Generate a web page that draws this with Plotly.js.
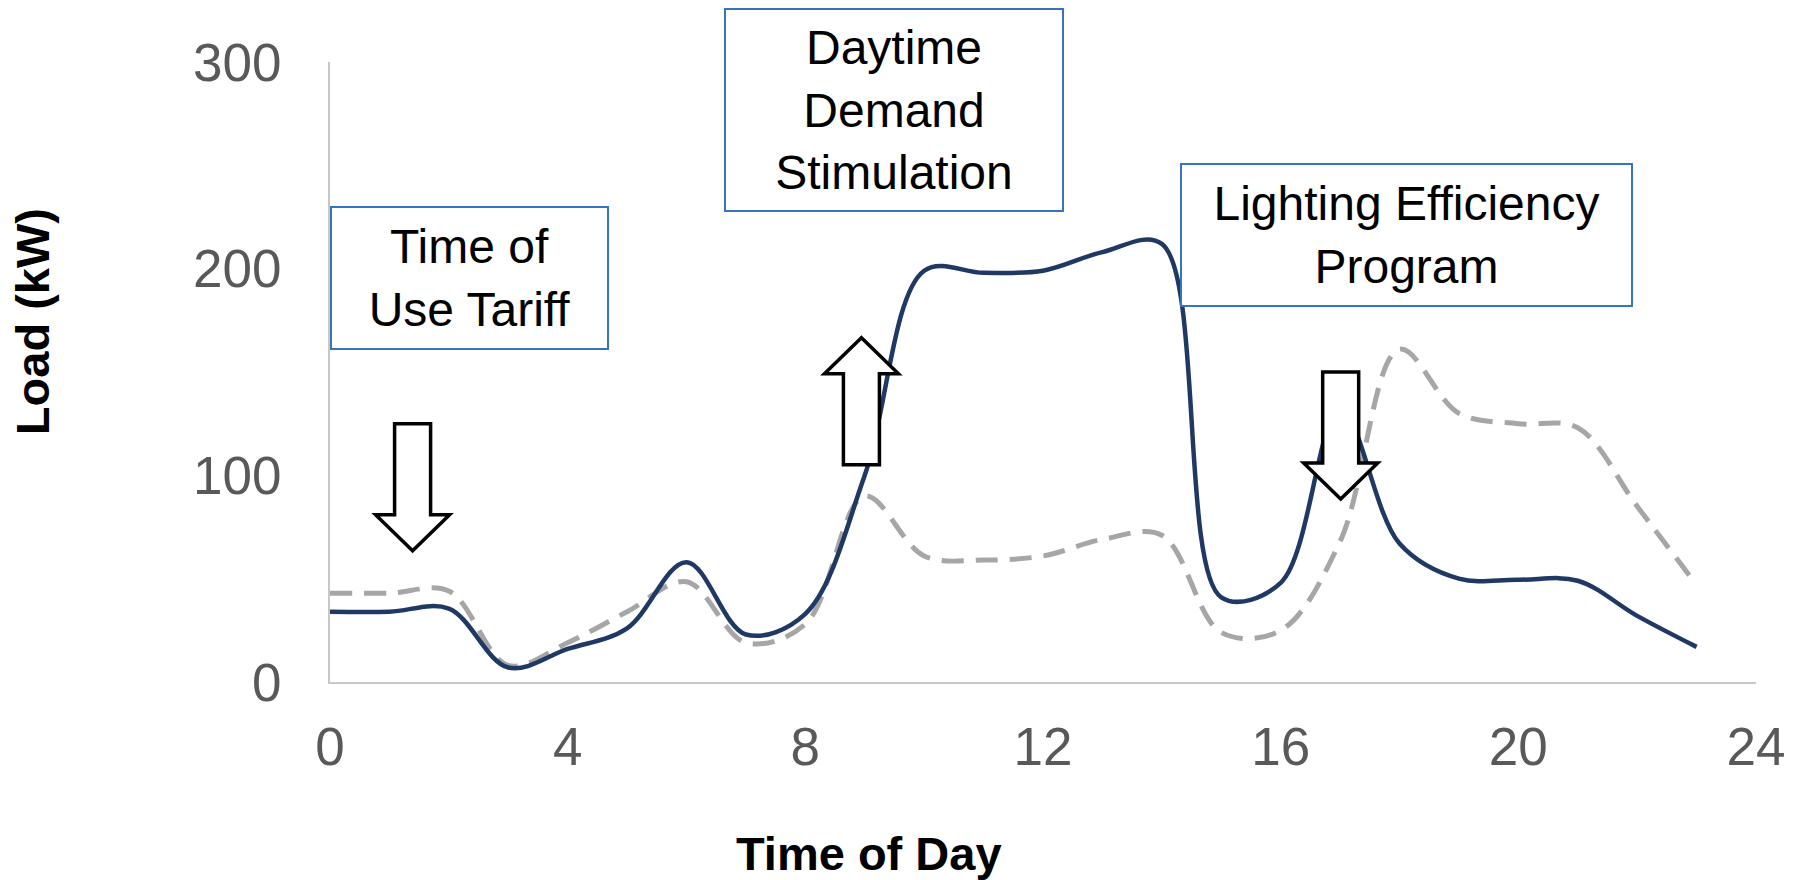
<!DOCTYPE html>
<html>
<head>
<meta charset="utf-8">
<script src="https://cdn.plot.ly/plotly-3.0.1.min.js"></script>
<style>html,body{margin:0;padding:0;background:#fff;}#chart{width:1806px;height:880px;}</style>
</head>
<body>
<div id="chart"></div>
<script>
// ---- data ----
const hours = [0,1,2,3,4,5,6,7,8,9,10,11,12,13,14,15,16,17,18,19,20,21,22,23];
const modifiedLoad = [34,34,35.5,7,16,26,58,23,33,100,199,198,199,208,212,41,48,132,67,50,49.5,49,32,17];
const baselineLoad = [43,43,44,8,19,34,48.5,19,28,90,61,59,61,69,71,24,25,68,161,130,125,123,85,47];
const xTicks = [0,4,8,12,16,20,24];
const yTicks = [0,100,200,300];
const xTitle = "Time of Day";
const yTitle = "Load (kW)";

const boxLabels = ["Time of<br>Use Tariff", "Daytime<br>Demand<br>Stimulation", "Lighting Efficiency<br>Program"];
const boxX = [2.35, 9.49, 18.12];
const boxY = [195.5, 276.7, 216.4];
const boxW = [275, 336, 449];
const boxH = [140, 200, 140];

// block arrows: anchor at tip (data coords), direction
const arrowX = [1.39, 8.944, 17.01];
const arrowY = [63.5, 166.6, 88.5];
const arrowDir = ["down", "up", "down"];

const FONT = "Liberation Sans, Arial, Helvetica, sans-serif";

const traces = [
  {x: hours, y: baselineLoad, type: "scatter", mode: "lines", name: "Baseline",
   line: {shape: "spline", smoothing: 1, color: "#a6a6a6", width: 5, dash: "22px,12px"},
   hoverinfo: "x+y", showlegend: false},
  {x: hours, y: modifiedLoad, type: "scatter", mode: "lines", name: "With programs",
   line: {shape: "spline", smoothing: 1, color: "#1f3864", width: 4.5},
   hoverinfo: "x+y", showlegend: false}
];

function arrowPath(dir) {
  const s = dir === "down" ? 1 : -1;
  const pts = [[0,0],[-37,36*s],[-18,36*s],[-18,127*s],[18,127*s],[18,36*s],[37,36*s]];
  return "M " + pts.map(p => p[0] + " " + p[1]).join(" L ") + " Z";
}

const shapes = arrowX.map((ax, i) => ({
  type: "path", xref: "x", yref: "y",
  xsizemode: "pixel", ysizemode: "pixel",
  xanchor: ax, yanchor: arrowY[i],
  path: arrowPath(arrowDir[i]),
  fillcolor: "#ffffff", line: {color: "#000000", width: 3.5}, layer: "above"
}));

const annotations = boxLabels.map((t, i) => ({
  text: t, x: boxX[i], y: boxY[i], xref: "x", yref: "y",
  showarrow: false, align: "center", valign: "middle",
  width: boxW[i], height: boxH[i],
  bordercolor: "#3574c0", borderwidth: 2, borderpad: 0, bgcolor: "#ffffff",
  font: {family: FONT, size: 48, color: "#000000"}
}));

// axis titles (placed off-centre as in the reference)
annotations.push({
  text: "<b>" + xTitle + "</b>", xref: "paper", yref: "paper", x: 0.378, y: -0.276,
  xanchor: "center", yanchor: "middle", showarrow: false,
  font: {family: FONT, size: 47, color: "#000000"}
});
annotations.push({
  text: "<b>" + yTitle + "</b>", xref: "paper", yref: "paper", x: -0.209, y: 0.582,
  xanchor: "center", yanchor: "middle", showarrow: false, textangle: -90,
  font: {family: FONT, size: 47, color: "#000000"}
});

const layout = {
  width: 1806, height: 880,
  margin: {l: 330, r: 50, t: 62, b: 198},
  paper_bgcolor: "#ffffff", plot_bgcolor: "#ffffff",
  showlegend: false,
  xaxis: {
    range: [0, 24], tickvals: xTicks, ticktext: xTicks.map(String),
    showgrid: false, zeroline: false, showline: true, linecolor: "#c8c8c8", linewidth: 2,
    ticks: "", ticklabelstandoff: 17,
    tickfont: {family: FONT, size: 53, color: "#595959"},
    automargin: false
  },
  yaxis: {
    range: [0, 300], tickvals: yTicks, ticktext: yTicks.map(String),
    showgrid: false, zeroline: false, showline: true, linecolor: "#c8c8c8", linewidth: 2,
    ticks: "", ticklabelstandoff: 36,
    tickfont: {family: FONT, size: 53, color: "#595959"},
    automargin: false
  },
  shapes: shapes,
  annotations: annotations
};

Plotly.newPlot("chart", traces, layout, {displayModeBar: false, staticPlot: true});
</script>
</body>
</html>
